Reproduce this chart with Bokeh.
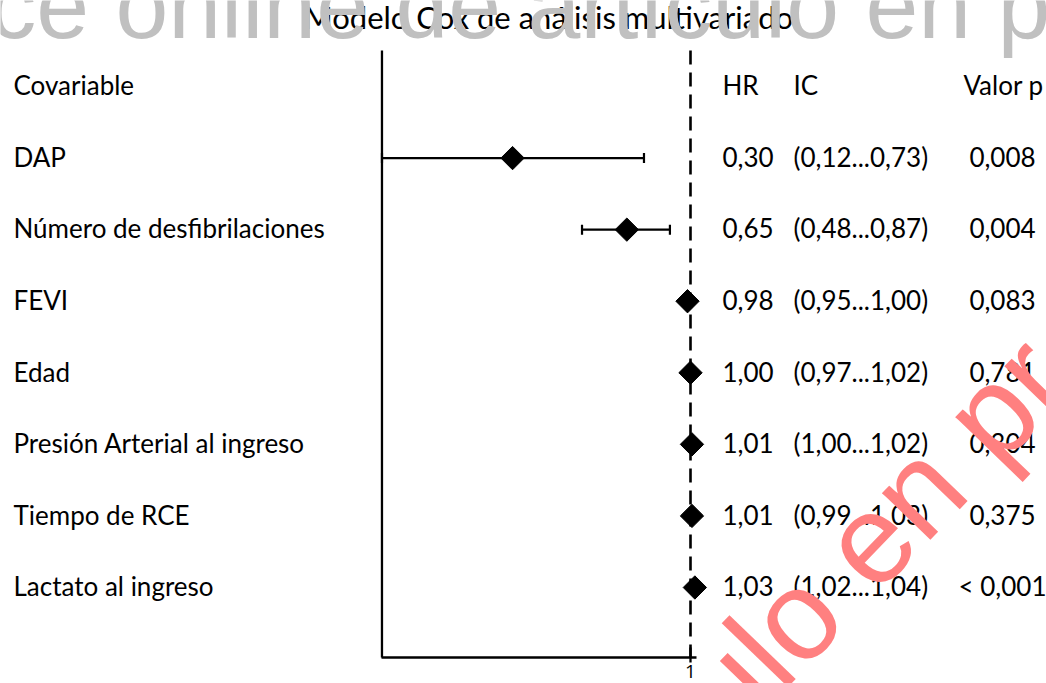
import math
from bokeh.plotting import figure
from bokeh.models import Range1d, LogScale, LogAxis, FixedTicker, NumeralTickFormatter
from bokeh.core.properties import value
from bokeh.embed import file_html
from bokeh.resources import INLINE

# ---------------- data ----------------
title_text = "Modelo Cox de análisis multivariado"
headers = ["Covariable", "HR", "IC", "Valor p"]
covariables = ["DAP", "Número de desfibrilaciones", "FEVI", "Edad",
               "Presión Arterial al ingreso", "Tiempo de RCE", "Lactato al ingreso"]
hr = [0.30, 0.65, 0.98, 1.00, 1.01, 1.01, 1.03]
ci_lo = [0.124, 0.48, 0.95, 0.97, 1.00, 0.99, 1.02]
ci_hi = [0.73, 0.87, 1.00, 1.02, 1.02, 1.03, 1.04]
hr_labels = ["0,30", "0,65", "0,98", "1,00", "1,01", "1,01", "1,03"]
ci_labels = ["(0,12...0,73)", "(0,48...0,87)", "(0,95...1,00)", "(0,97...1,02)",
             "(1,00...1,02)", "(0,99...1,03)", "(1,02...1,04)"]
p_labels = ["0,008", "0,004", "0,083", "0,781", "0,304", "0,375", "< 0,001"]
tick_values = [1]
watermark_top = "ce online de artículo en p"
watermark_diag = "ulo en pr"

rows = list(range(1, len(covariables) + 1))

# ---------------- geometry (screen px) ----------------
W, H = 1046, 683
ROW0, STEP = 86.0, 71.57          # header row centre, row pitch
LATO_DY = 0.41                     # empirical baseline correction (em)
SANS_DY = 0.395


def row_of(sy):
    return (sy - ROW0) / STEP


K = 147.8                          # px per ln unit on HR scale
X_ONE = 690.0                      # screen x of HR = 1

y_range = Range1d(start=row_of(H), end=row_of(0))
x_range = Range1d(0, W)
hr_range = Range1d(math.exp(-X_ONE / K), math.exp((W - X_ONE) / K))

FONT = "Lato"
p = figure(width=W, height=H, x_range=x_range, y_range=y_range,
           x_axis_type=None, y_axis_type=None, toolbar_location=None,
           output_backend="svg", min_border=0, outline_line_color=None)
p.extra_x_ranges = {"hr": hr_range}
p.extra_x_scales = {"hr": LogScale()}

axis_top = row_of(50)
axis_row = row_of(657)
axis_lo, axis_hi = min(ci_lo), max(ci_hi)

# left vertical axis line
p.segment(x0=[axis_lo], x1=[axis_lo], y0=[axis_top], y1=[axis_row],
          x_range_name="hr", line_color="black", line_width=2.3)
# reference line HR = 1
p.segment(x0=[1], x1=[1], y0=[axis_top], y1=[axis_row],
          x_range_name="hr", line_color="black", line_width=2.6, line_dash="14 8")

# confidence intervals
p.segment(x0=ci_lo, x1=ci_hi, y0=rows, y1=rows, x_range_name="hr",
          line_color="black", line_width=2.2)
p.scatter(x=ci_lo + ci_hi, y=rows + rows, marker="dash", angle=math.pi / 2, size=10,
          line_color="black", line_width=2.2, x_range_name="hr")
# point estimates
p.scatter(x=hr, y=rows, marker="square", angle=math.pi / 4, size=16.5,
          fill_color="black", line_color="black", x_range_name="hr")

# bottom axis (inside the frame)
xaxis = LogAxis(x_range_name="hr", fixed_location=axis_row, bounds=(axis_lo, axis_hi),
                ticker=FixedTicker(ticks=tick_values, minor_ticks=[]),
                formatter=NumeralTickFormatter(format="0"))
xaxis.axis_line_width = 2.3
xaxis.axis_line_color = "black"
xaxis.major_tick_line_width = 2.3
xaxis.major_tick_in = 10
xaxis.major_tick_out = 5
xaxis.minor_tick_line_color = None
xaxis.major_label_text_font = "Open Sans"
xaxis.major_label_text_font_size = "19px"
xaxis.major_label_standoff = 2
xaxis.major_label_text_color = "black"
p.add_layout(xaxis, "below")

# text columns
LBL_SIZE = 26
BL = (9.5 - LATO_DY * LBL_SIZE) / STEP   # baseline offset from row centre (data units)
common = dict(text_font=value(FONT), text_font_size=f"{LBL_SIZE}px", text_color="black",
              text_baseline="alphabetic")
p.text(x=[13], y=[0 + BL], text=[headers[0]], text_align="left", **common)
p.text(x=[722], y=[0 + BL], text=[headers[1]], text_align="left", **common)
p.text(x=[793], y=[0 + BL], text=[headers[2]], text_align="left", **common)
p.text(x=[1003], y=[0 + BL], text=[headers[3]], text_align="center", **common)

ry = [r + BL for r in rows]
p.text(x=[13] * len(rows), y=ry, text=covariables, text_align="left", **common)
p.text(x=[722] * len(rows), y=ry, text=hr_labels, text_align="left", **common)
p.text(x=[793] * len(rows), y=ry, text=ci_labels, text_align="left", **common)
p.text(x=[1002] * len(rows), y=ry, text=p_labels, text_align="center", **common)

# title
TITLE_SIZE = 31
p.text(x=[548], y=[row_of(29 - LATO_DY * TITLE_SIZE)], text=[title_text], text_align="center",
       text_baseline="alphabetic", text_font=value(FONT), text_font_size=f"{TITLE_SIZE}px",
       text_color="black")

# watermarks
WM1 = 95
p.text(x=[519], y=[row_of(42 - SANS_DY * WM1)], text=[watermark_top], text_align="center",
       text_baseline="alphabetic", text_font=value("Liberation Sans"),
       text_font_size=f"{WM1}px", text_color="#c0c0c0")
WM2 = 127
ang = math.radians(46)
cx, cy = 908.5, 570.0
off = SANS_DY * WM2
p.text(x=[cx - off * math.sin(ang)], y=[row_of(cy - off * math.cos(ang))], text=[watermark_diag],
       text_align="center", text_baseline="alphabetic", text_font=value("Liberation Sans"),
       text_font_size=f"{WM2}px", text_color="#ff8080", angle=ang)

open("out.html", "w").write(file_html(p, INLINE))
